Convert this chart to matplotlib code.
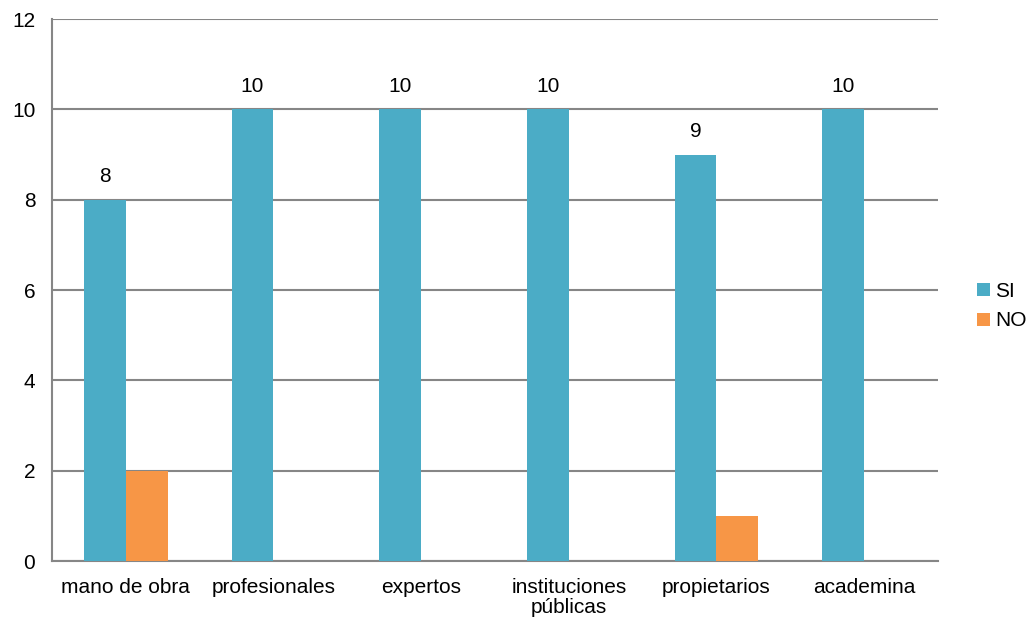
import numpy as np
import matplotlib.pyplot as plt

plt.rcParams['font.family'] = ['Liberation Sans', 'DejaVu Sans']

categories = ["mano de obra", "profesionales", "expertos",
              "instituciones\npúblicas", "propietarios", "academina"]
si = [8, 10, 10, 10, 9, 10]
no = [2, 0, 0, 0, 1, 0]

fig = plt.figure(figsize=(10.29, 6.21), dpi=100)
ax = fig.add_axes([0.0505, 0.0966, 0.861, 0.8728])

x = np.arange(len(categories))
w = 0.284
b1 = ax.bar(x - w / 2, si, w, color="#4BACC6", label="SI", zorder=3)
b2 = ax.bar(x + w / 2, no, w, color="#F79646", label="NO", zorder=3)

for rect, v in zip(b1, si):
    ax.text(rect.get_x() + rect.get_width() / 2, v + 0.3, str(v),
            ha="center", va="bottom", fontsize=15)

ax.set_xlim(-0.5, len(categories) - 0.5)
ax.set_ylim(0, 12)
ax.set_yticks(range(0, 13, 2))
ax.set_xticks(x)
ax.set_xticklabels(categories, fontsize=15, linespacing=1.1)
ax.tick_params(axis="y", labelsize=15, length=0, pad=12)
ax.tick_params(axis="x", length=0, pad=12)
ax.yaxis.grid(True, color="#868686", linewidth=1.5, zorder=0)

for s in ["top", "right"]:
    ax.spines[s].set_visible(False)
for s in ["left", "bottom"]:
    ax.spines[s].set_color("#868686")
    ax.spines[s].set_linewidth(1.5)

ax.legend(loc="center left", bbox_to_anchor=(1.035, 0.47), frameon=False,
          fontsize=15, handlelength=0.6, handleheight=0.6, handletextpad=0.25,
          labelspacing=0.5, borderaxespad=0)

fig.savefig("out.png", dpi=100)
